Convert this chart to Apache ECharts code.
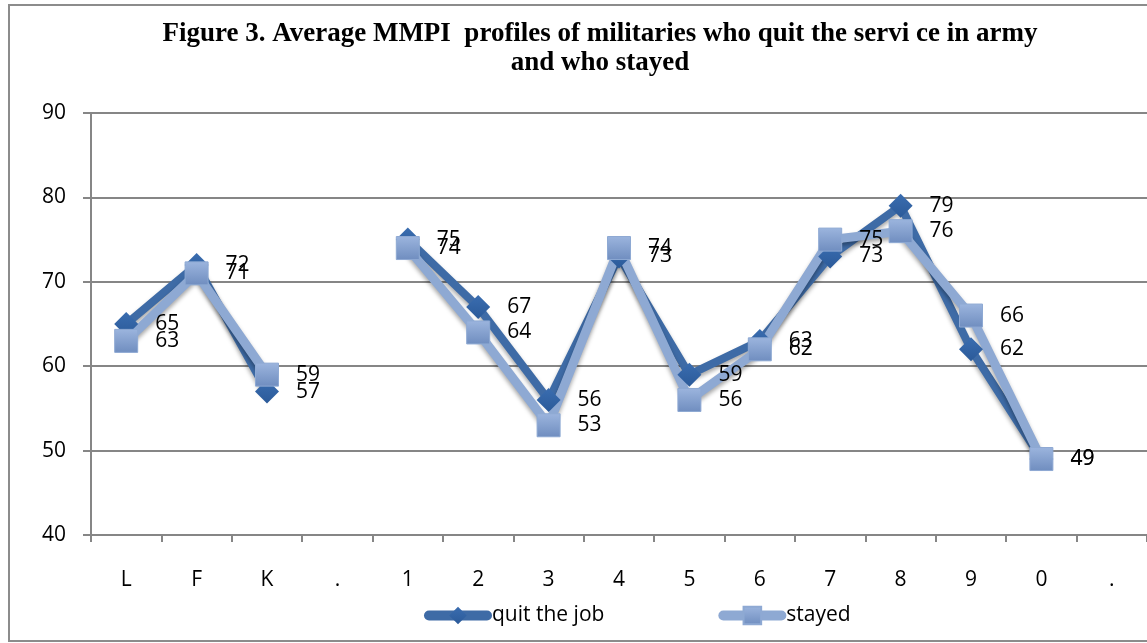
<!DOCTYPE html>
<html><head><meta charset="utf-8">
<script src="https://cdn.jsdelivr.net/npm/echarts@6/dist/echarts.min.js"></script>
<style>html,body{margin:0;padding:0;background:#fff}#c{width:1147px;height:643px}</style>
</head><body><div id="c"></div>
<script>
const categories = ['L','F','K','.','1','2','3','4','5','6','7','8','9','0','.'];
const quitJob = [65,72,57,null,75,67,56,73,59,63,73,79,62,49,null];
const stayed = [63,71,59,null,74,64,53,74,56,62,75,76,66,49,null];
const yTicks = {min:40,max:90,interval:10};

const chart = echarts.init(document.getElementById('c'));
const font = '"Open Sans", sans-serif';
const labelStyle = {show:true, position:'right', color:'#000', fontFamily:font, fontSize:21};
chart.setOption({
  animation:false,
  graphic:[{type:'rect',shape:{x:9,y:5,width:1150,height:636},style:{fill:'none',stroke:'#8c8c8c',lineWidth:2},z:-1}],
  title:{text:'Figure 3. Average MMPI  profiles of militaries who quit the servi ce in army\nand who stayed',
    left:595, textAlign:'center', top:15,
    textStyle:{fontFamily:'"Liberation Serif", serif',fontWeight:'bold',fontSize:27,lineHeight:29,color:'#000'}},
  legend:{left:419, top:600, itemWidth:58, itemHeight:22, itemGap:114,
    textStyle:{fontFamily:font,fontSize:21,color:'#000'},
    data:[
      {name:'quit the job',lineStyle:{width:10,cap:'round'}},
      {name:'stayed',lineStyle:{width:10,cap:'round'}}
    ]},
  grid:{left:91,right:0,top:113,bottom:108},
  xAxis:{type:'category',data:categories,boundaryGap:true,
    axisLine:{lineStyle:{color:'#868686',width:2}},
    axisTick:{show:true,length:7,lineStyle:{color:'#868686',width:2}},
    axisLabel:{color:'#000',fontFamily:font,fontSize:21,margin:35}},
  yAxis:{type:'value',min:yTicks.min,max:yTicks.max,interval:yTicks.interval,
    axisLine:{show:true,lineStyle:{color:'#868686',width:2}},
    axisTick:{show:true,length:8,lineStyle:{color:'#868686',width:2}},
    splitLine:{lineStyle:{color:'#868686',width:2}},
    axisLabel:{color:'#000',fontFamily:font,fontSize:21,margin:25}},
  series:[
    {name:'quit the job',type:'line',data:quitJob,connectNulls:false,
     symbol:'diamond',symbolSize:24,
     lineStyle:{width:8,color:'#3e6ba6',shadowColor:'rgba(0,0,0,0.35)',shadowBlur:4,shadowOffsetY:3},
     itemStyle:{color:new echarts.graphic.LinearGradient(0,0,0,1,[{offset:0,color:'#3a6db0'},{offset:1,color:'#2b5a99'}]),borderWidth:0},
     label:Object.assign({},labelStyle,{distance:17})},
    {name:'stayed',type:'line',data:stayed,connectNulls:false,
     symbol:'rect',symbolSize:23,
     lineStyle:{width:9,color:'#8ea9d3',shadowColor:'rgba(0,0,0,0.35)',shadowBlur:4,shadowOffsetY:3},
     itemStyle:{color:new echarts.graphic.LinearGradient(0,0,0,1,[{offset:0,color:'#9cb5de'},{offset:1,color:'#6f8dbf'}]),borderColor:'#8ea9d3',borderWidth:1},
     label:Object.assign({},labelStyle,{distance:17})}
  ]
});
</script></body></html>
